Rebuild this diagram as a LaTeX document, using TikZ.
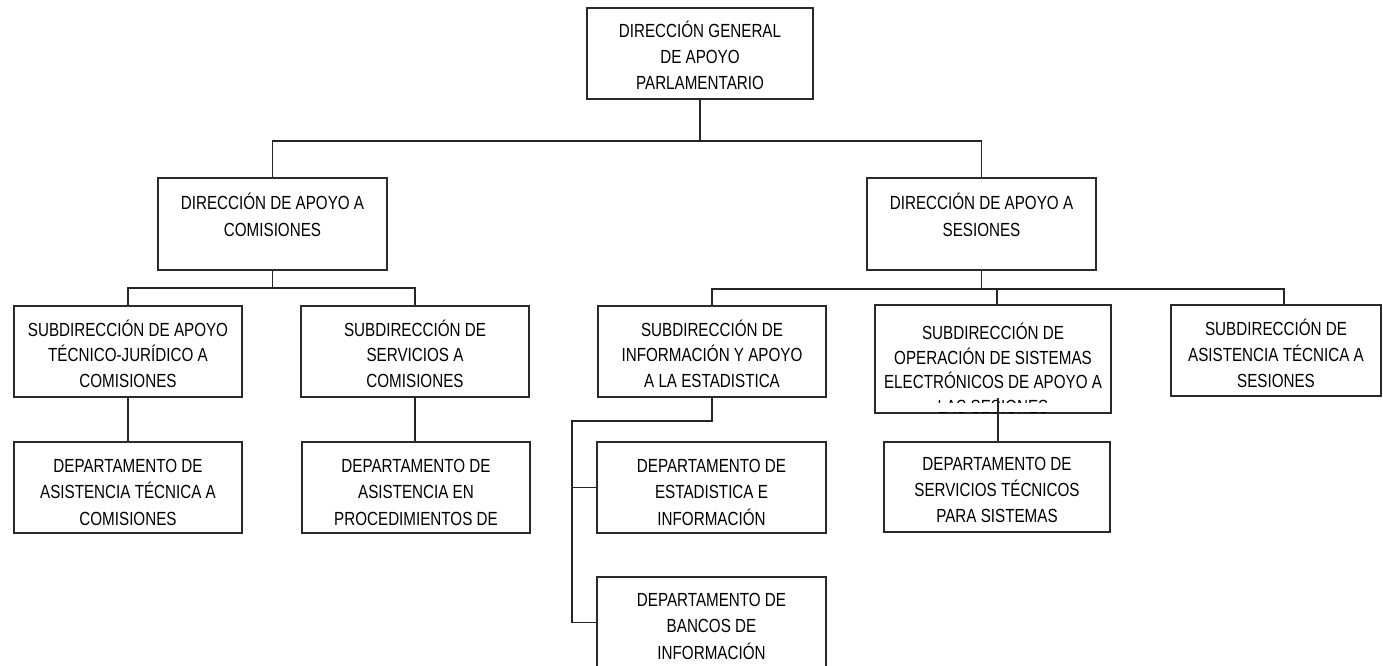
\documentclass[tikz,border=0pt]{standalone}
\usepackage{fontspec}
\setmainfont{Liberation Sans}[FakeStretch=0.8]
\definecolor{boxline}{HTML}{2A2A2A}
\definecolor{linkc}{HTML}{262626}
\begin{document}
\begin{tikzpicture}[x=1pt,y=-1pt,
  orgbox/.style={draw=boxline, line width=2.6pt, rectangle, inner sep=0pt, anchor=base, align=center, text=black, font=\fontsize{19}{26}\selectfont},
  subbox/.style={orgbox, font=\fontsize{19}{25.5}\selectfont, text height=81pt, text depth=10pt},
  deptbox/.style={orgbox, font=\fontsize{19}{26.5}\selectfont, text height=83pt, text depth=8pt},
  dirbox/.style={orgbox, font=\fontsize{19}{27}\selectfont, minimum width=229pt, text height=58pt, text depth=34pt},
  link/.style={draw=linkc, line width=1.9pt}]
\clip (0,0) rectangle (1383,666);
\fill[white] (0,0) rectangle (1383,666);

% boxes
\node[orgbox, minimum width=226pt, text height=82pt, text depth=9pt] (gen) at (700,90) {DIRECCIÓN GENERAL\\DE APOYO\\PARLAMENTARIO};
\node[dirbox] (dircom) at (272.5,236) {DIRECCIÓN DE APOYO A\\COMISIONES};
\node[dirbox] (dirses) at (981.5,236) {DIRECCIÓN DE APOYO A\\SESIONES};

\node[subbox, minimum width=228pt] (sub1) at (128,387) {SUBDIRECCIÓN DE APOYO\\TÉCNICO-JURÍDICO A\\COMISIONES};
\node[subbox, minimum width=228pt] (sub2) at (415,387) {SUBDIRECCIÓN DE\\SERVICIOS A\\COMISIONES};
\node[subbox, minimum width=228pt] (sub3) at (712,387) {SUBDIRECCIÓN DE\\INFORMACIÓN Y APOYO\\A LA ESTADISTICA};
\node[orgbox, font=\fontsize{19}{24.5}\selectfont, minimum width=236pt, text height=108pt, text depth=0pt] (sub4) at (993,413) {SUBDIRECCIÓN DE\\OPERACIÓN DE SISTEMAS\\ELECTRÓNICOS DE APOYO A\\LAS SESIONES};
\node[orgbox, minimum width=210pt, text height=82pt, text depth=9pt] (sub5) at (1276,387) {SUBDIRECCIÓN DE\\ASISTENCIA TÉCNICA A\\SESIONES};

\node[deptbox, minimum width=228pt] (dep1) at (128,525) {DEPARTAMENTO DE\\ASISTENCIA TÉCNICA A\\COMISIONES};
\node[deptbox, minimum width=228pt] (dep2) at (416,525) {DEPARTAMENTO DE\\ASISTENCIA EN\\PROCEDIMIENTOS DE};
\node[deptbox, minimum width=229pt] (dep3) at (711.5,525) {DEPARTAMENTO DE\\ESTADISTICA E\\INFORMACIÓN};
\node[deptbox, minimum width=229pt, text height=82pt, text depth=9pt] (dep4) at (711.5,659) {DEPARTAMENTO DE\\BANCOS DE\\INFORMACIÓN};
\node[orgbox, minimum width=226pt, text height=80pt, text depth=10pt] (dep5) at (997,522) {DEPARTAMENTO DE\\SERVICIOS TÉCNICOS\\PARA SISTEMAS};

% connectors
\draw[link] (gen.south) -- ++(0,41) coordinate (gbar);
\draw[link] (dircom.north) |- (gbar) -| (dirses.north);
\draw[link] (dircom.south) -- ++(0,17) coordinate (cbar);
\draw[link] (sub1.north) |- (cbar) -| (sub2.north);
\draw[link] (dirses.south) -- ++(0,18) coordinate (sbar);
\coordinate (s5drop) at ([xshift=8pt]sub5.north);
\draw[link] (sub3.north) |- (sbar) -| (s5drop);
\draw[link] (sbar -| dep5.north) -- (sub4.north -| dep5.north);
\draw[link] (sub1.south) -- (sub1.south |- dep1.north);
\draw[link] (sub2.south) -- (sub2.south |- dep2.north);
\coordinate (ispine) at (572,421);
\draw[link] (sub3.south) |- (ispine) |- (dep4.west);
\draw[link] (ispine |- dep3.west) -- (dep3.west);
\fill[white] (876.5,403) rectangle (1109.5,411.6);
\coordinate (s4drop) at (998,398);
\draw[link] (s4drop) -- (s4drop |- dep5.north);
\end{tikzpicture}
\end{document}
